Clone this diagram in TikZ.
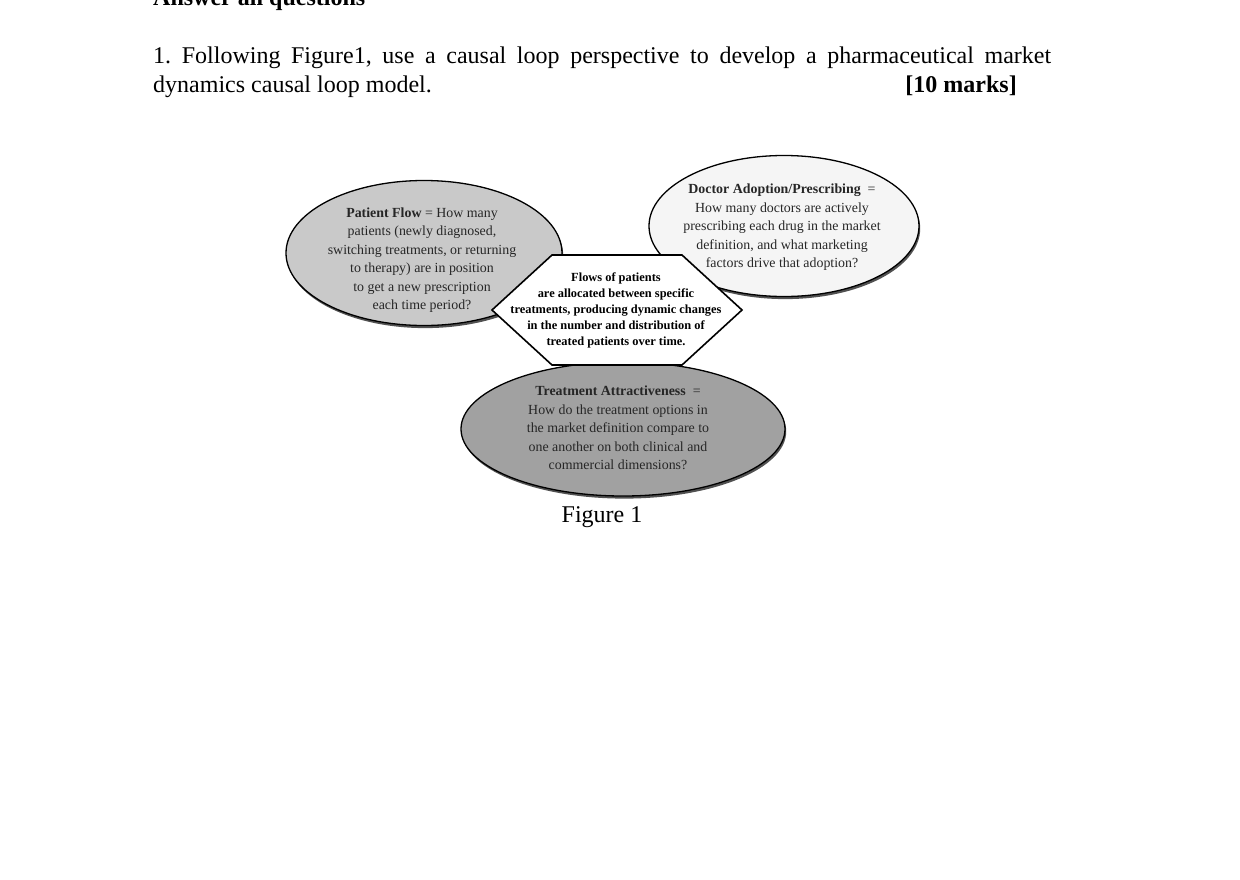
\documentclass[tikz,border=0pt]{standalone}
\usepackage{fontspec}
\setmainfont{Liberation Serif}
\usetikzlibrary{shapes.geometric,shadows}
\frenchspacing
\begin{document}
\begin{tikzpicture}[x=1pt,y=-1pt,
  oval/.style={ellipse, draw=black, line width=1.3pt, inner sep=0pt,
    drop shadow={shadow xshift=1.2pt, shadow yshift=-2.6pt, fill=black!80, opacity=0.85}},
  ovaltext/.style={align=center, inner sep=0pt, text=black!85, font=\fontsize{13.9}{18.5}\selectfont},
  hextext/.style={align=center, inner sep=0pt, font=\bfseries\fontsize{12.4}{16.2}\selectfont},
  hexline/.style={draw=black, line width=1.6pt, fill=white},
  body/.style={inner sep=0pt, font=\fontsize{24}{29}\selectfont}
]
\useasboundingbox[fill=white] (0,0) rectangle (1240,879);

% heading and question
\node[body, anchor=base west, font=\bfseries\fontsize{24}{29}\selectfont] (head) at (153,5) {Answer all questions};
\node[body, anchor=base west] (q1) at (153,63) {\makebox[898pt][s]{1. Following Figure1, use a causal loop perspective to develop a pharmaceutical market}};
\node[body, anchor=base west] (q2) at (153,92) {dynamics causal loop model.};
\node[body, anchor=base east, font=\bfseries\fontsize{24}{29}\selectfont] (marks) at (1017,92) {[10 marks]};

% ellipses
\node[oval, fill=black!21, minimum width=276pt, minimum height=145pt] (pf) at (424,253) {};
\node[oval, fill=black!4, minimum width=270pt, minimum height=141pt] (da) at (784,226) {};
\node[oval, fill=black!37, minimum width=324pt, minimum height=134pt] (ta) at (623,429) {};

% hexagon
\coordinate (h1) at (492,310);
\coordinate (h2) at (552,255);
\coordinate (h3) at (682,255);
\coordinate (h4) at (742,310);
\coordinate (h5) at (682,365);
\coordinate (h6) at (552,365);
\draw[hexline, line join=miter] (h1) -- (h2) -- (h3) -- (h4) -- (h5) -- (h6) -- cycle;

% texts
\node[ovaltext] (pft) at (422,260) {\textbf{Patient Flow} = How many\\patients (newly diagnosed,\\switching treatments, or returning\\to therapy) are in position\\to get a new prescription\\each time period?};
\node[ovaltext] (dat) at (782,227.5) {\textbf{Doctor Adoption/Prescribing}\ \ =\\How many doctors are actively\\prescribing each drug in the market\\definition, and what marketing\\factors drive that adoption?};
\node[ovaltext] (tat) at (618,428) {\textbf{Treatment Attractiveness}\ \ =\\How do the treatment options in\\the market definition compare to\\one another on both clinical and\\commercial dimensions?};
\node[hextext] (hext) at (616,310.5) {Flows of patients\\are allocated between specific\\treatments, producing dynamic changes\\in the number and distribution of\\treated patients over time.};

\node[body, anchor=base] (fig) at (602,522) {Figure 1};
\end{tikzpicture}
\end{document}
